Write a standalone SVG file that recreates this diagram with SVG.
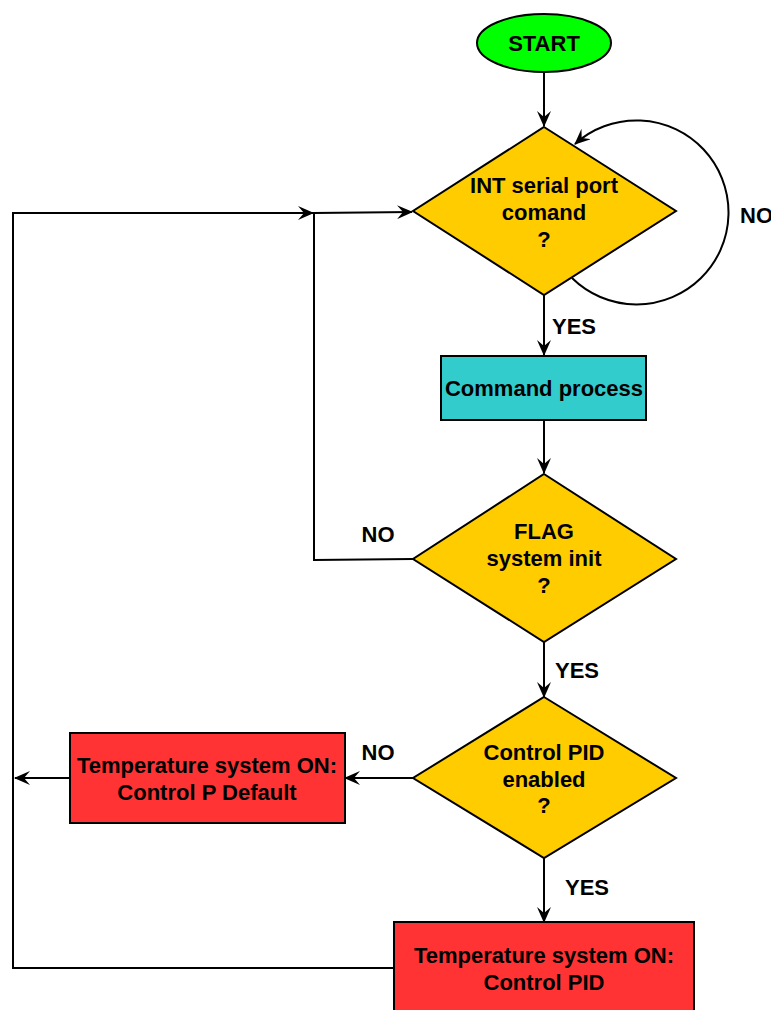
<svg xmlns="http://www.w3.org/2000/svg" width="771" height="1010" viewBox="0 0 771 1010">
<style>
  .shape { stroke: #000; stroke-width: 2; }
  .term { fill: #00FF00; }
  .dec { fill: #FFCC00; }
  .proc { fill: #33CCCC; }
  .act { fill: #FF3333; }
  .conn { fill: none; stroke: #000; stroke-width: 2; }
  text { font-family: "Liberation Sans", Arial, sans-serif; font-weight: bold; font-size: 22px; fill: #000; }
  .c { text-anchor: middle; }
</style>
<defs>
  <marker id="arrow" viewBox="0 0 16 14" refX="15" refY="7" markerWidth="8" markerHeight="7" markerUnits="strokeWidth" orient="auto">
    <path d="M0,0 L16,7 L0,14 L6,7 Z" fill="#000"/>
  </marker>
</defs>
<rect width="771" height="1010" fill="#fff"/>

<g id="connectors">
  <path class="conn" d="M544,72 V126" marker-end="url(#arrow)"/>
  <path class="conn" d="M572,278 A92,92 0 1 0 575,144" marker-end="url(#arrow)"/>
  <path class="conn" d="M544,295 V355" marker-end="url(#arrow)"/>
  <path class="conn" d="M544,420 V473" marker-end="url(#arrow)"/>
  <path class="conn" d="M413,559 L314,560 V213 L412,212" marker-end="url(#arrow)"/>
  <path class="conn" d="M544,642 V697" marker-end="url(#arrow)"/>
  <path class="conn" d="M413,778 H345" marker-end="url(#arrow)"/>
  <path class="conn" d="M70,778 H15" marker-end="url(#arrow)"/>
  <path class="conn" d="M544,858 V922" marker-end="url(#arrow)"/>
  <path class="conn" d="M394,968 H13 V213 H313" marker-end="url(#arrow)"/>
  <text x="740" y="223">NO</text>
  <text class="c" x="574" y="334">YES</text>
  <text class="c" x="378" y="542">NO</text>
  <text class="c" x="577" y="678">YES</text>
  <text class="c" x="378" y="760">NO</text>
  <text class="c" x="587" y="895">YES</text>
</g>

<g id="start">
  <ellipse class="shape term" cx="544" cy="43" rx="67" ry="29"/>
  <text class="c" x="544" y="51">START</text>
</g>

<g id="int-serial">
  <polygon class="shape dec" points="544,127 676,211 544,295 413,211"/>
  <text class="c" x="544" y="193">INT serial port</text>
  <text class="c" x="544" y="220">comand</text>
  <text class="c" x="544" y="247">?</text>
</g>

<g id="command-process">
  <rect class="shape proc" x="441" y="356" width="205" height="64"/>
  <text class="c" x="544" y="396">Command process</text>
</g>

<g id="flag-init">
  <polygon class="shape dec" points="544,474 676,559 544,642 413,559"/>
  <text class="c" x="544" y="539">FLAG</text>
  <text class="c" x="544" y="566">system init</text>
  <text class="c" x="544" y="593">?</text>
</g>

<g id="pid-enabled">
  <polygon class="shape dec" points="544,697 676,778 544,858 413,778"/>
  <text class="c" x="544" y="760">Control PID</text>
  <text class="c" x="544" y="787">enabled</text>
  <text class="c" x="544" y="813">?</text>
</g>

<g id="control-p">
  <rect class="shape act" x="70" y="733" width="275" height="90"/>
  <text class="c" x="207" y="773">Temperature system ON:</text>
  <text class="c" x="207" y="800">Control P Default</text>
</g>

<g id="control-pid">
  <rect class="shape act" x="394" y="922" width="300" height="100"/>
  <text class="c" x="544" y="963">Temperature system ON:</text>
  <text class="c" x="544" y="990">Control PID</text>
</g>
</svg>
